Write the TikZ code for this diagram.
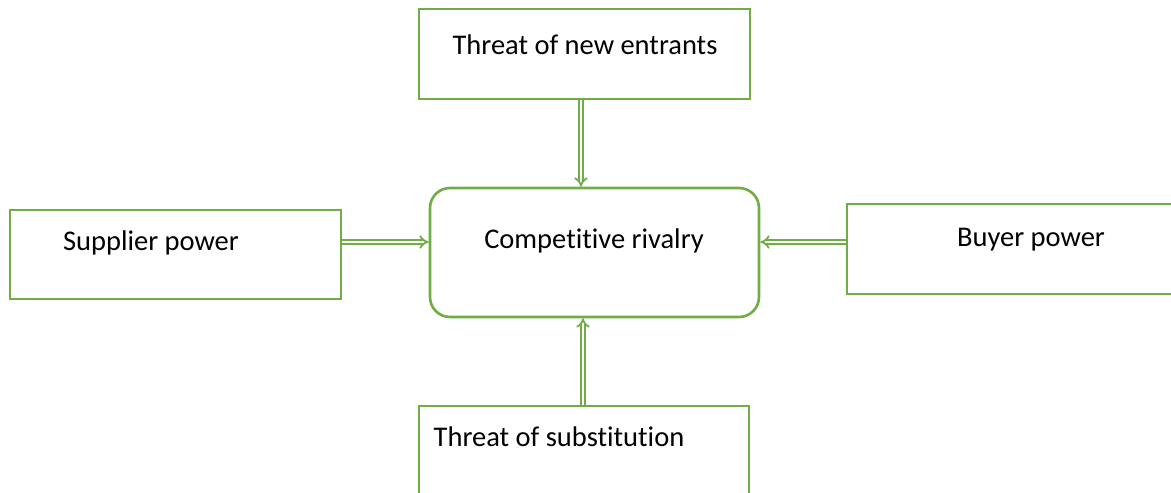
\documentclass[tikz,border=0pt]{standalone}
\usepackage{fontspec}
\setmainfont{Carlito}[RawFeature={-liga;-clig;-calt;-dlig}]
\usetikzlibrary{arrows.meta}
\definecolor{offgreen}{HTML}{70AD47}
\begin{document}
\begin{tikzpicture}[x=1pt,y=-1pt,
  box/.style={draw=offgreen,line width=2.6pt,minimum width=#1,inner sep=0pt},
  lbl/.style={font=\fontsize{28.5}{34}\selectfont,inner sep=0pt,anchor=center},
  arr/.style={draw=offgreen,line width=1.8pt,double=white,double distance=2.6pt,-{Implies[length=7pt]}}
]
\useasboundingbox (0,0) rectangle (1171,493);
\fill[white] (0,0) rectangle (1171,493);
\node[box=331pt,minimum height=90pt] (top) at (584.5,54) {};
\node[box=329pt,minimum height=129pt,rounded corners=20pt] (mid) at (594.5,252.5) {};
\node[box=331pt,minimum height=89pt] (left) at (175.5,254.5) {};
\node[box=333pt,minimum height=90pt] (right) at (1013.5,249) {};
\node[box=330pt,minimum height=94pt] (bot) at (584,453) {};
\node[lbl] (ttop) at (585,45) {Threat of new entrants};
\node[lbl] (tmid) at (594,241) {Compet\kern0pt it\kern0pt ive rivalry};
\node[lbl] (tleft) at (151,243) {Supplier power};
\node[lbl] (tright) at (1031,240) {Buyer power};
\node[lbl] (tbot) at (559,437) {Threat of subst\kern0pt itut\kern0pt ion};
\coordinate (ay) at (0,242);
\coordinate (tx) at (581,0);
\coordinate (bx) at (583,0);
\draw[arr] (top.south -| tx) -- (mid.north -| tx);
\draw[arr] (bot.north -| bx) -- (mid.south -| bx);
\draw[arr] (left.east |- ay) -- (mid.west |- ay);
\draw[arr] (right.west |- ay) -- (mid.east |- ay);
\end{tikzpicture}
\end{document}
